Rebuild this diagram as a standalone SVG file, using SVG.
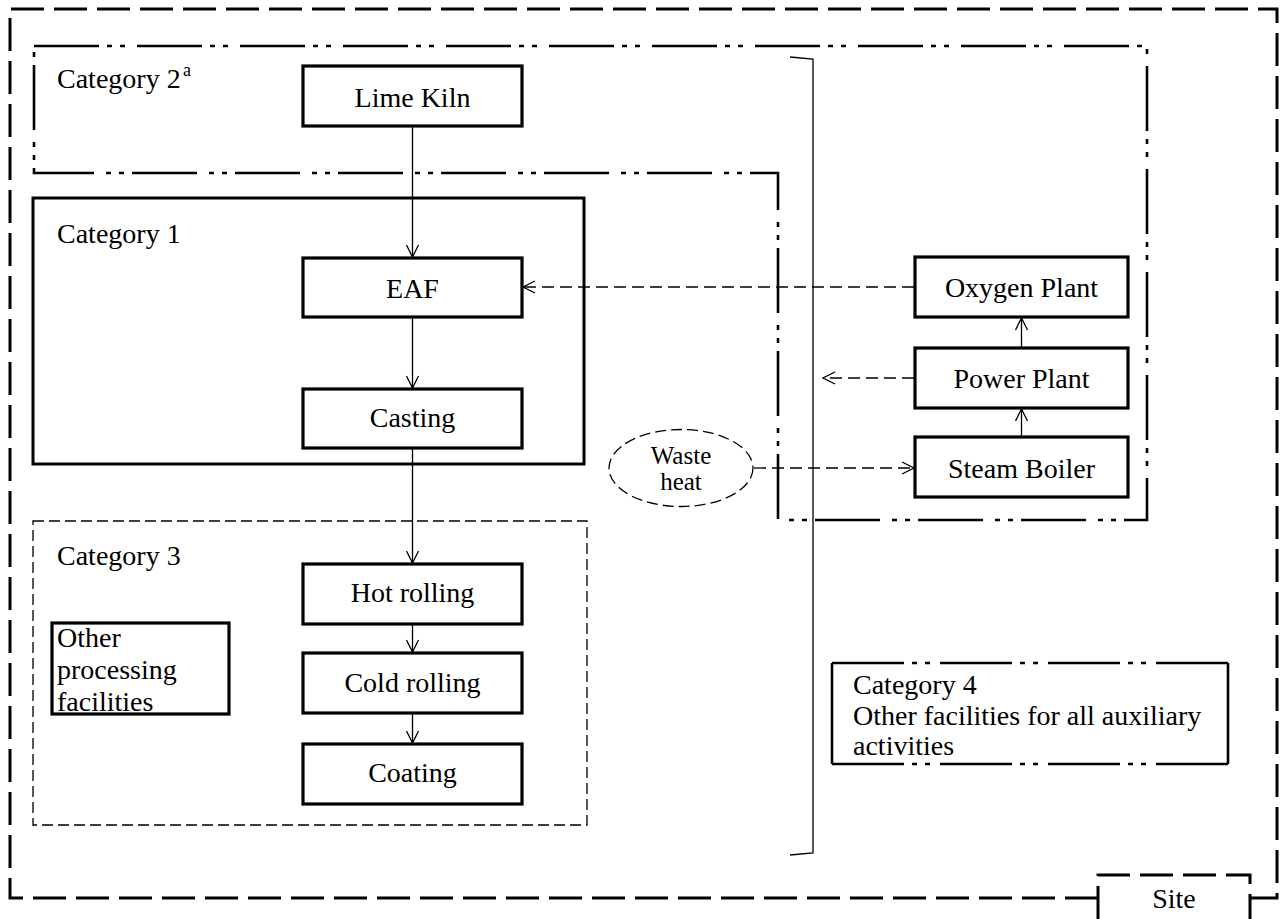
<svg xmlns="http://www.w3.org/2000/svg" width="1284" height="919" viewBox="0 0 1284 919">
<style>
text{font-family:"Liberation Serif","Times New Roman",serif;font-size:28px;fill:#000}
.c{text-anchor:middle}
.node{fill:#fff;stroke:#000;stroke-width:3.2}
.site{fill:none;stroke:#000;stroke-width:3;stroke-dasharray:33 10}
.cat2{fill:none;stroke:#000;stroke-width:2.6;stroke-dasharray:65 8 5 8 5 12}
.cat4{fill:none;stroke:#000;stroke-width:2.6;stroke-dasharray:72 8 5 8 5 10}
.cat1{fill:none;stroke:#000;stroke-width:3}
.cat3{fill:none;stroke:#000;stroke-width:1.3;stroke-dasharray:11 5}
.flow{fill:none;stroke:#000;stroke-width:1.3}
.dash{fill:none;stroke:#000;stroke-width:1.3;stroke-dasharray:12 6}
</style>
<defs>
<marker id="arr" viewBox="0 0 14 14" refX="13" refY="7" markerWidth="14" markerHeight="14" markerUnits="userSpaceOnUse" orient="auto">
<path d="M1,1 L13,7 L1,13" fill="none" stroke="#000" stroke-width="1.3" stroke-dasharray="none"/>
</marker>
</defs>
<g id="site">
<path class="site" d="M1098,898 L10,898 L10,9 L1277,9 L1277,898 L1250,898"/>
<path class="site" d="M1098,919 L1098,875 L1250,875 L1250,919"/>
<text class="c" x="1174" y="908">Site</text>
</g>
<g id="category2">
<path class="cat2" d="M34,46 L1147,46 L1147,520 L778,520 L778,173 L34,173 Z"/>
<text x="57" y="88">Category 2</text>
<text x="183" y="76" style="font-size:18px">a</text>
</g>
<g id="category1">
<rect class="cat1" x="33" y="198" width="551" height="266"/>
<text x="57" y="243">Category 1</text>
</g>
<g id="category3">
<rect class="cat3" x="33" y="521" width="554" height="304"/>
<text x="57" y="565">Category 3</text>
</g>
<g id="category4">
<path class="flow" d="M832,663 L832,764 M1228,663 L1228,764" style="stroke-width:2.6"/>
<path class="cat4" d="M832,663 L1228,663"/>
<path class="cat4" d="M832,764 L1228,764"/>
<text x="853" y="694">Category 4</text>
<text x="853" y="725">Other facilities for all auxiliary</text>
<text x="853" y="755">activities</text>
</g>
<g id="bracket">
<path class="flow" d="M790,57 L813,59 L813,853 L790,855"/>
</g>
<g id="lime-kiln">
<rect class="node" x="303" y="66" width="219" height="60"/>
<text class="c" x="412.5" y="107">Lime Kiln</text>
</g>
<g id="eaf">
<rect class="node" x="303" y="258" width="219" height="59"/>
<text class="c" x="412.5" y="298">EAF</text>
</g>
<g id="casting">
<rect class="node" x="303" y="389" width="219" height="59"/>
<text class="c" x="412.5" y="427">Casting</text>
</g>
<g id="hot-rolling">
<rect class="node" x="303" y="564" width="219" height="60"/>
<text class="c" x="412.5" y="602">Hot rolling</text>
</g>
<g id="cold-rolling">
<rect class="node" x="303" y="653" width="219" height="60"/>
<text class="c" x="412.5" y="692">Cold rolling</text>
</g>
<g id="coating">
<rect class="node" x="303" y="744" width="219" height="60"/>
<text class="c" x="412.5" y="782">Coating</text>
</g>
<g id="other-processing">
<rect class="node" x="52" y="623" width="177" height="91"/>
<text x="57" y="647">Other</text>
<text x="57" y="679">processing</text>
<text x="57" y="711">facilities</text>
</g>
<g id="oxygen-plant">
<rect class="node" x="915" y="257" width="213" height="60"/>
<text class="c" x="1021.5" y="297">Oxygen Plant</text>
</g>
<g id="power-plant">
<rect class="node" x="915" y="348" width="213" height="60"/>
<text class="c" x="1021.5" y="388">Power Plant</text>
</g>
<g id="steam-boiler">
<rect class="node" x="915" y="437" width="213" height="60"/>
<text class="c" x="1021.5" y="478">Steam Boiler</text>
</g>
<g id="waste-heat">
<ellipse cx="681" cy="468" rx="72" ry="38.5" fill="#fff" stroke="#000" stroke-width="1.3" stroke-dasharray="11 5"/>
<text class="c" x="681" y="464" style="font-size:25px">Waste</text>
<text class="c" x="681" y="490" style="font-size:25px">heat</text>
</g>
<g id="connectors">
<line class="flow" x1="412.5" y1="127" x2="412.5" y2="257" marker-end="url(#arr)"/>
<line class="flow" x1="412.5" y1="318" x2="412.5" y2="388" marker-end="url(#arr)"/>
<line class="flow" x1="412.5" y1="449" x2="412.5" y2="563" marker-end="url(#arr)"/>
<line class="flow" x1="412.5" y1="625" x2="412.5" y2="652" marker-end="url(#arr)"/>
<line class="flow" x1="412.5" y1="714" x2="412.5" y2="743" marker-end="url(#arr)"/>
<line class="dash" x1="914" y1="287" x2="523" y2="287" marker-end="url(#arr)"/>
<line class="dash" x1="914" y1="378" x2="823" y2="378" marker-end="url(#arr)"/>
<line class="dash" x1="754" y1="468" x2="914" y2="468" marker-end="url(#arr)"/>
<line class="flow" x1="1021.5" y1="436" x2="1021.5" y2="409" marker-end="url(#arr)"/>
<line class="flow" x1="1021.5" y1="347" x2="1021.5" y2="318" marker-end="url(#arr)"/>
</g>
</svg>
